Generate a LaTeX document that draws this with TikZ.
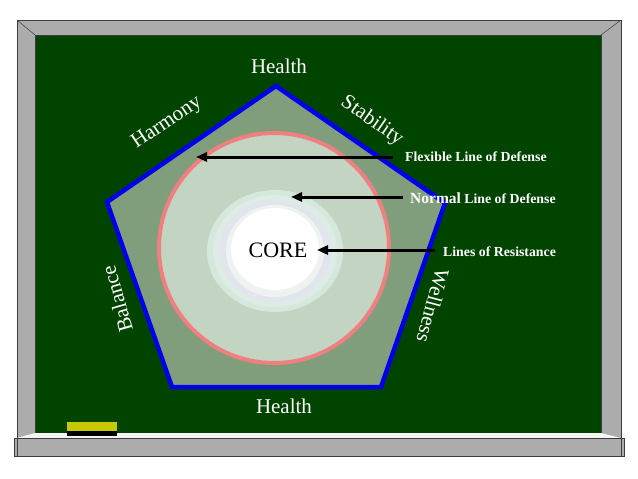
\documentclass[tikz,border=0pt]{standalone}
\usepackage{fontspec}
\setmainfont{Liberation Serif}
\usetikzlibrary{arrows.meta}
\definecolor{board}{RGB}{0,68,0}
\definecolor{framegray}{RGB}{172,172,172}
\definecolor{framedark}{RGB}{60,60,60}
\definecolor{ledge}{RGB}{244,244,244}
\definecolor{eraser}{RGB}{200,200,0}
\definecolor{pentfill}{RGB}{128,158,124}
\definecolor{pentblue}{RGB}{0,0,235}
\definecolor{circfill}{RGB}{196,212,194}
\definecolor{circpink}{RGB}{240,128,128}
\definecolor{ringa}{RGB}{212,232,220}
\definecolor{ringb}{RGB}{222,236,230}
\definecolor{ringc}{RGB}{226,228,238}
\definecolor{ringd}{RGB}{238,243,241}
\tikzset{
  sidelabel/.style={text=white, font=\fontsize{21}{21}\selectfont, inner sep=0pt},
  linelabel/.style={text=white, font=\fontsize{13.8}{13.8}\selectfont\bfseries, anchor=west, inner sep=0pt},
  pointer/.style={line width=3pt, -{Triangle[length=11pt,width=9pt]}},
}
\begin{document}
\begin{tikzpicture}[x=1pt,y=-1pt]
\useasboundingbox (0,0) rectangle (638,479);
\fill[white] (0,0) rectangle (638,479);
% chalkboard frame
\filldraw[fill=framegray, draw=framedark, line width=0.8pt] (17,20) rectangle (621,438);
\draw[framedark, line width=0.5pt] (17,20) -- (35,35) (621,20) -- (601,35);
\fill[board] (35,35) rectangle (601,433);
\draw[framedark, line width=0.5pt] (35,35) rectangle (601,433);
\fill[ledge] (17,438) -- (35,433) -- (601,433) -- (621,438) -- cycle;
\filldraw[fill=framegray, draw=framedark, line width=0.8pt] (14,438) rectangle (624,456);
\draw[framedark, line width=0.5pt] (17,438) -- (17,456) (621,438) -- (621,456);
% eraser
\fill[eraser] (67,422) rectangle (117,431);
\fill[black] (67,431) rectangle (117,436);
% pentagon
\coordinate (ptop) at (276,86);
\coordinate (pright) at (445,203);
\coordinate (pbr) at (381,387);
\coordinate (pbl) at (172,387);
\coordinate (pleft) at (107,202);
\filldraw[fill=pentfill, draw=pentblue, line width=4.5pt] (ptop) -- (pright) -- (pbr) -- (pbl) -- (pleft) -- cycle;
% flexible line of defense circle
\coordinate (ctr) at (274,248);
\filldraw[fill=circfill, draw=circpink, line width=4pt] (ctr) circle[radius=115];
% core rings
\coordinate (corec) at (275,251);
\fill[ringa] (corec) ellipse[x radius=68, y radius=61];
\fill[ringb] (corec) ellipse[x radius=62, y radius=56];
\fill[ringc] (corec) ellipse[x radius=56, y radius=51];
\fill[ringd] (corec) ellipse[x radius=49, y radius=46];
\fill[white] (275,249) ellipse[x radius=44, y radius=41];
\node[font=\fontsize{22}{22}\selectfont, inner sep=0pt] (core) at (278,250) {CORE};
% side labels
\node[sidelabel] (healthtop) at (279,66) {Health};
\node[sidelabel] (healthbot) at (284,406) {Health};
\node[sidelabel, rotate=34] (harmony) at (167,123) {Harmony};
\node[sidelabel, rotate=-35] (stability) at (372,121) {Stability};
\node[sidelabel, rotate=106] (balance) at (117,299) {Balance};
\node[sidelabel, rotate=-105] (wellness) at (433,306) {Wellness};
% line labels
\node[linelabel] (flex) at (405,157) {Flexible Line of Defense};
\node[linelabel] (normal) at (410,198) {{\fontsize{15.5}{15.5}\selectfont Normal} Line of Defense};
\node[linelabel] (resist) at (443,252) {Lines of Resistance};
% arrows
\coordinate (flextail) at (393,157);
\coordinate (flexhead) at (196,157);
\coordinate (normtail) at (403,197);
\coordinate (normhead) at (291,197);
\coordinate (restail) at (435,250);
\coordinate (reshead) at (317,250);
\draw[pointer] (flextail) -- (flexhead);
\draw[pointer] (normtail) -- (normhead);
\draw[pointer] (restail) -- (reshead);
\end{tikzpicture}
\end{document}
